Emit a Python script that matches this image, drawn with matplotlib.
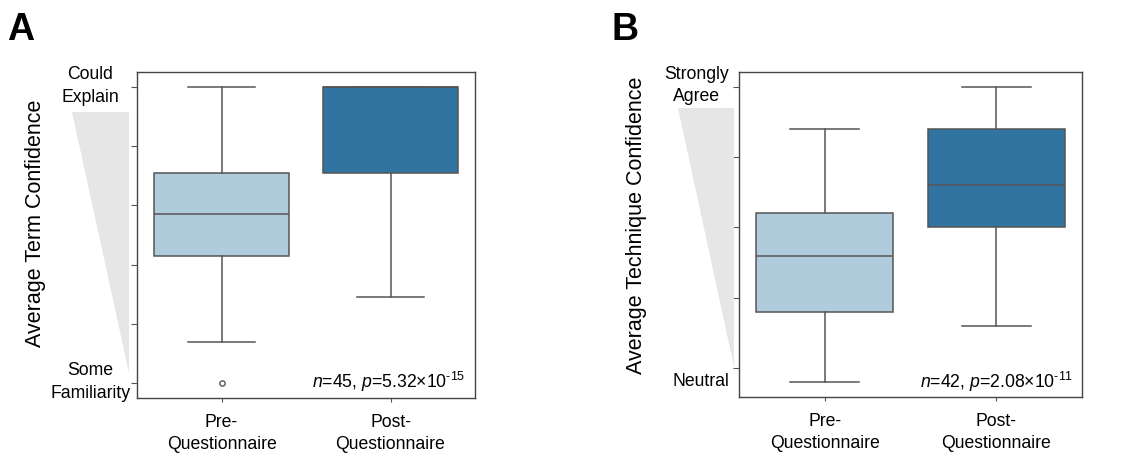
import matplotlib
matplotlib.use("Agg")
import matplotlib.pyplot as plt
from matplotlib.patches import Polygon
from matplotlib.transforms import ScaledTranslation

plt.rcParams['font.family'] = ['Liberation Sans', 'DejaVu Sans']
plt.rcParams['mathtext.fontset'] = 'custom'
plt.rcParams['mathtext.rm'] = 'Liberation Sans'
plt.rcParams['mathtext.it'] = 'Liberation Sans:italic'

# ---------------- data ----------------
groups = ["Pre-\nQuestionnaire", "Post-\nQuestionnaire"]
colors = ["#afcbdc", "#3274a1"]

# Panel A (term confidence)
a_whislo = [3.14, 3.29]
a_q1 = [3.43, 3.71]
a_med = [3.57, 4.00]
a_q3 = [3.71, 4.00]
a_whishi = [4.00, 4.00]
a_fliers = [[3.00], []]
a_ticks = [3.0, 3.2, 3.4, 3.6, 3.8, 4.0]
a_ticklabels = ["Some\nFamiliarity", "", "", "", "", "Could\nExplain"]
a_ylabel = "Average Term Confidence"
a_note = r"$\it{n}$=45, $\it{p}$=5.32×10$^{\text{-15}}$"

# Panel B (technique confidence)
b_whislo = [2.90, 3.30]
b_q1 = [3.40, 4.00]
b_med = [3.80, 4.30]
b_q3 = [4.10, 4.70]
b_whishi = [4.70, 5.00]
b_fliers = [[], []]
b_ticks = [3.0, 3.5, 4.0, 4.5, 5.0]
b_ticklabels = ["Neutral", "", "", "", "Strongly\nAgree"]
b_ylabel = "Average Technique Confidence"
b_note = r"$\it{n}$=42, $\it{p}$=2.08×10$^{\text{-11}}$"

line_c = "#555555"

fig = plt.figure(figsize=(11.4, 4.61), dpi=100)
axA = fig.add_axes([137/1140, 1-398/461, 338/1140, 326/461])
axB = fig.add_axes([739/1140, 1-397/461, 343/1140, 325/461])


def shift(label, dy_px):
    label.set_transform(label.get_transform() +
                        ScaledTranslation(0, dy_px / 100, fig.dpi_scale_trans))


def draw(ax, whislo, q1, med, q3, whishi, fliers):
    stats = []
    for i in range(len(groups)):
        stats.append(dict(whislo=whislo[i], q1=q1[i], med=med[i], q3=q3[i],
                          whishi=whishi[i], fliers=fliers[i]))
    bp = ax.bxp(stats, positions=list(range(len(groups))), widths=0.8,
                patch_artist=True, showfliers=True,
                boxprops=dict(edgecolor=line_c, linewidth=1.1),
                medianprops=dict(color=line_c, linewidth=1.1),
                whiskerprops=dict(color=line_c, linewidth=1.1),
                capprops=dict(color=line_c, linewidth=1.1),
                flierprops=dict(marker='o', markersize=3.8, markerfacecolor='white',
                                markeredgecolor=line_c, markeredgewidth=1.0))
    for patch, c in zip(bp['boxes'], colors):
        patch.set_facecolor(c)
    ax.set_xlim(-0.5, len(groups) - 0.5)
    ax.set_xticks(range(len(groups)))
    ax.set_xticklabels(groups, fontsize=12.7, linespacing=1.4)
    ax.tick_params(axis='x', length=3, pad=8.5, color=line_c)
    for s in ax.spines.values():
        s.set_color("#444444")
        s.set_linewidth(1.0)


draw(axA, a_whislo, a_q1, a_med, a_q3, a_whishi, a_fliers)
axA.set_ylim(2.95, 4.05)
axA.set_yticks(a_ticks)
axA.set_yticklabels(a_ticklabels, fontsize=12.7, linespacing=1.45)
axA.tick_params(axis='y', length=4, pad=29.5, color=line_c)
for t in axA.get_yticklabels():
    t.set_ha('center')
    t.set_multialignment('center')
    shift(t, 6)
axA.set_ylabel(a_ylabel, fontsize=15.5, va='center')
axA.yaxis.set_label_coords(-0.299, 0.537)
axA.text(0.970, 0.031, a_note, transform=axA.transAxes, ha='right',
         va='baseline', fontsize=12.7)

draw(axB, b_whislo, b_q1, b_med, b_q3, b_whishi, b_fliers)
axB.set_ylim(2.796, 5.104)
axB.set_yticks(b_ticks)
axB.set_yticklabels(b_ticklabels, fontsize=12.7, linespacing=1.45)
axB.tick_params(axis='y', length=4, pad=3, color=line_c)
for t in axB.get_yticklabels():
    t.set_multialignment('center')
blabs = axB.get_yticklabels()
shift(blabs[0], -11)
shift(blabs[-1], 6)
axB.set_ylabel(b_ylabel, fontsize=15.5, va='center')
axB.yaxis.set_label_coords(-0.300, 0.529)
axB.text(0.974, 0.028, b_note, transform=axB.transAxes, ha='right',
         va='baseline', fontsize=12.7)

# decorative gradient wedges (figure pixel coordinates)
def wedge(pts):
    poly = Polygon([(x/1140, 1-y/461) for x, y in pts], closed=True,
                   transform=fig.transFigure, facecolor="#e6e6e6",
                   edgecolor='none', zorder=0)
    fig.patches.append(poly)

wedge([(72, 112), (129, 112), (129, 373)])
wedge([(678, 108), (734, 108), (734, 367)])

fig.text(7/1140, 1-40/461, "A", fontsize=27, fontweight='bold', va='baseline')
fig.text(611/1140, 1-40/461, "B", fontsize=27, fontweight='bold', va='baseline')

fig.savefig("out.png", dpi=100)
